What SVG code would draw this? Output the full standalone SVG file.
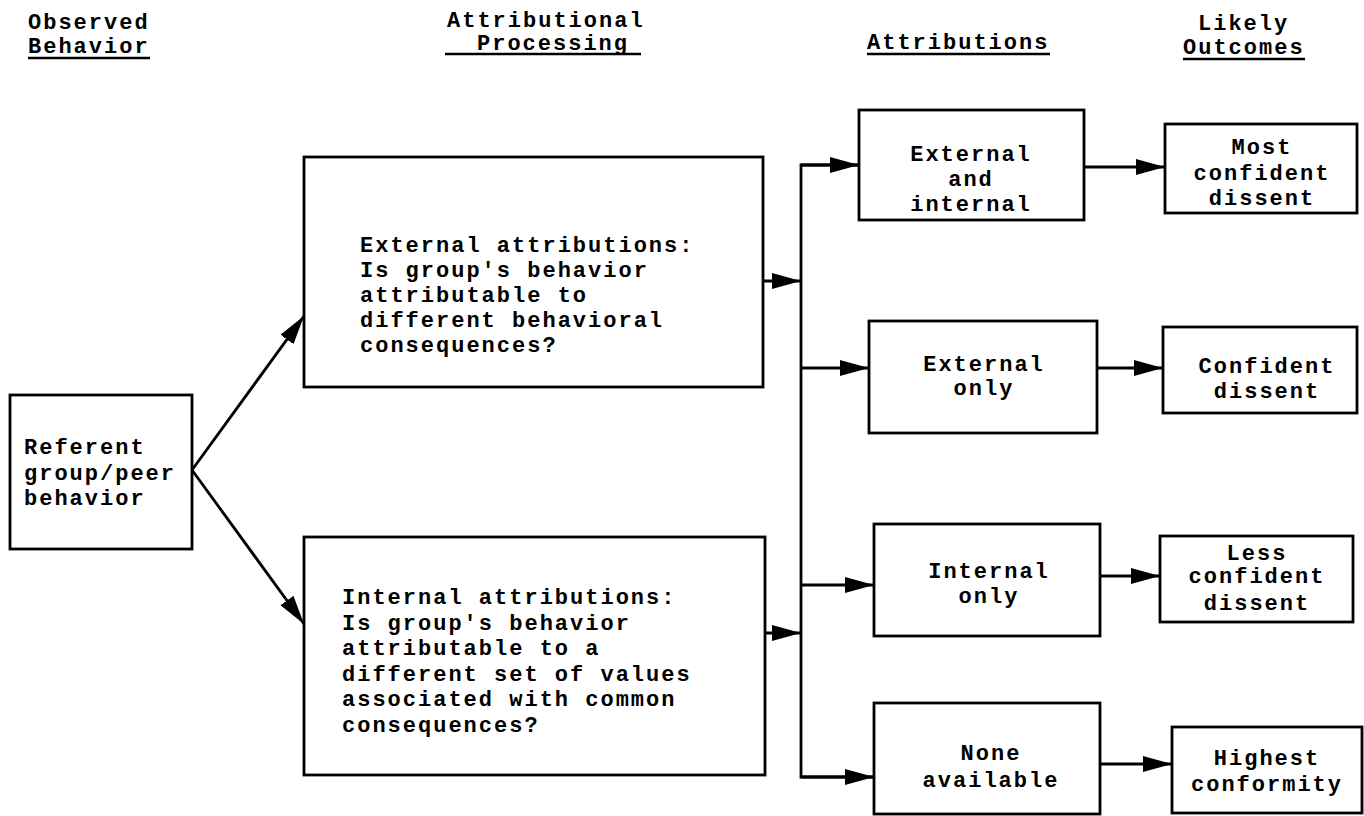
<svg xmlns="http://www.w3.org/2000/svg" width="1364" height="816" viewBox="0 0 1364 816">
<style>
text{font-family:"Liberation Mono","DejaVu Sans Mono",monospace;font-weight:bold;font-size:22px;letter-spacing:2px;fill:#000}
.box{fill:#fff;stroke:#000;stroke-width:2.8}
.c{text-anchor:middle}
.ln{stroke:#000;stroke-width:2.8;fill:none}
.ul{stroke:#000;stroke-width:2.4}
</style>
<defs>
<marker id="ah" markerUnits="userSpaceOnUse" markerWidth="32" markerHeight="18" refX="29" refY="8" orient="auto">
<path d="M0,0 L29,8 L0,16 z" fill="#000"/>
</marker>
</defs>
<rect width="1364" height="816" fill="#fff"/>
<g id="headers">
<text x="28" y="29">Observed</text>
<text x="28" y="53">Behavior</text>
<line class="ul" x1="28" y1="58" x2="150" y2="58"/>
<text x="447" y="27">Attributional</text>
<text x="477" y="50">Processing</text>
<line class="ul" x1="445" y1="54" x2="641" y2="54"/>
<text x="867" y="49">Attributions</text>
<line class="ul" x1="867" y1="54" x2="1050" y2="54"/>
<text x="1198" y="30">Likely</text>
<text x="1183" y="54">Outcomes</text>
<line class="ul" x1="1183" y1="59" x2="1305" y2="59"/>
</g>
<g id="connectors">
<line class="ln" x1="192" y1="470" x2="304" y2="316" marker-end="url(#ah)"/>
<line class="ln" x1="192" y1="470" x2="304" y2="624" marker-end="url(#ah)"/>
<line class="ln" x1="763" y1="281" x2="801" y2="281" marker-end="url(#ah)"/>
<line class="ln" x1="765" y1="633" x2="801" y2="633" marker-end="url(#ah)"/>
<polyline class="ln" points="859,165 801,165 801,777 874,777"/>
<line class="ln" x1="801" y1="165" x2="859" y2="165" marker-end="url(#ah)"/>
<line class="ln" x1="801" y1="368" x2="869" y2="368" marker-end="url(#ah)"/>
<line class="ln" x1="801" y1="585" x2="874" y2="585" marker-end="url(#ah)"/>
<line class="ln" x1="801" y1="777" x2="874" y2="777" marker-end="url(#ah)"/>
<line class="ln" x1="1084" y1="167" x2="1165" y2="167" marker-end="url(#ah)"/>
<line class="ln" x1="1097" y1="368" x2="1163" y2="368" marker-end="url(#ah)"/>
<line class="ln" x1="1100" y1="576" x2="1160" y2="576" marker-end="url(#ah)"/>
<line class="ln" x1="1100" y1="764" x2="1172" y2="764" marker-end="url(#ah)"/>
</g>
<g id="referent">
<rect class="box" x="10" y="395" width="182" height="154"/>
<text x="24" y="454">Referent</text>
<text x="24" y="480">group/peer</text>
<text x="24" y="505">behavior</text>
</g>
<g id="external-attributions">
<rect class="box" x="304" y="157" width="459" height="230"/>
<text x="360" y="252">External attributions:</text>
<text x="360" y="277">Is group's behavior</text>
<text x="360" y="302">attributable to</text>
<text x="360" y="327">different behavioral</text>
<text x="360" y="352">consequences?</text>
</g>
<g id="internal-attributions">
<rect class="box" x="304" y="537" width="461" height="238"/>
<text x="342" y="604">Internal attributions:</text>
<text x="342" y="630">Is group's behavior</text>
<text x="342" y="655">attributable to a</text>
<text x="342" y="681">different set of values</text>
<text x="342" y="706">associated with common</text>
<text x="342" y="732">consequences?</text>
</g>
<g id="external-and-internal">
<rect class="box" x="859" y="110" width="225" height="110"/>
<text class="c" x="971" y="161">External</text>
<text class="c" x="971" y="186">and</text>
<text class="c" x="971" y="211">internal</text>
</g>
<g id="external-only">
<rect class="box" x="869" y="321" width="228" height="112"/>
<text class="c" x="984" y="371">External</text>
<text class="c" x="984" y="395">only</text>
</g>
<g id="internal-only">
<rect class="box" x="874" y="524" width="226" height="112"/>
<text class="c" x="989" y="578">Internal</text>
<text class="c" x="989" y="603">only</text>
</g>
<g id="none-available">
<rect class="box" x="874" y="703" width="226" height="111"/>
<text class="c" x="991" y="760">None</text>
<text class="c" x="991" y="787">available</text>
</g>
<g id="most-confident-dissent">
<rect class="box" x="1165" y="124" width="192" height="89"/>
<text class="c" x="1262" y="154">Most</text>
<text class="c" x="1262" y="180">confident</text>
<text class="c" x="1262" y="205">dissent</text>
</g>
<g id="confident-dissent">
<rect class="box" x="1163" y="327" width="194" height="86"/>
<text class="c" x="1267" y="373">Confident</text>
<text class="c" x="1267" y="398">dissent</text>
</g>
<g id="less-confident-dissent">
<rect class="box" x="1160" y="536" width="193" height="86"/>
<text class="c" x="1257" y="560">Less</text>
<text class="c" x="1257" y="583">confident</text>
<text class="c" x="1257" y="610">dissent</text>
</g>
<g id="highest-conformity">
<rect class="box" x="1172" y="727" width="190" height="86"/>
<text class="c" x="1267" y="765">Highest</text>
<text class="c" x="1267" y="791">conformity</text>
</g>
</svg>
